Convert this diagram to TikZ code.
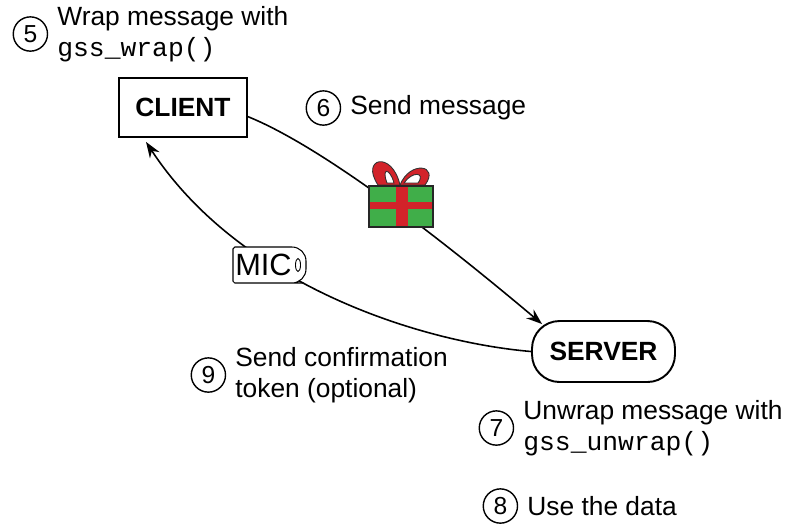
\documentclass[tikz,border=0pt]{standalone}
\usepackage{fontspec}
\setmainfont{Liberation Sans}
\setmonofont{Liberation Mono}
\usetikzlibrary{arrows.meta,positioning,calc,backgrounds}
\definecolor{GiftGreen}{RGB}{64,174,73}
\definecolor{GiftRed}{RGB}{210,35,42}
\tikzset{
  StepText/.style = {align=left, inner sep=0pt, anchor=west, font=\fontsize{15}{18}\selectfont},
  HostNode/.style = {draw = black, line width=1.1pt, inner sep=0pt, font=\fontsize{15}{18}\selectfont\bfseries, minimum width=2.56cm, minimum height=1.18cm},
  ServerNode/.style = {HostNode, rounded corners=0.55cm, minimum width=2.86cm, minimum height=1.22cm},
  StepNum/.style = {circle, draw = black, line width=0.8pt, inner sep=0pt, minimum size=19.5pt, font=\fontsize{14}{14}\selectfont},
  Flow/.style = {line width=0.9pt, ->}
}
\begin{document}
\begin{tikzpicture}[>={Stealth[length=9pt,width=6.5pt]}, x=0.02cm, y=-0.02cm]
  \useasboundingbox (0,0) rectangle (786,525);
  \node [HostNode] (client) at (183,107.5) {CLIENT};
  \node [ServerNode] (server) at (603.5,351.5) {SERVER};
  \node [StepText] (wrap) at (57,34) {Wrap message with\\\texttt{gss\_wrap()}};
  \node [StepNum, left=5pt of wrap] (n5) {5};
  \node [StepText] (send) at (350,108) {Send message};
  \node [StepNum, left=5pt of send] (n6) {6};
  \node [StepText] (unwrap) at (523,428) {Unwrap message with\\\texttt{gss\_unwrap()}};
  \node [StepNum, left=5pt of unwrap] (n7) {7};
  \node [StepText] (use) at (527,506) {Use the data};
  \node [StepNum, left=5pt of use] (n8) {8};
  \node [StepText] (confirm) at (235,375) {Send confirmation\\token (optional)};
  \node [StepNum, left=5pt of confirm] (n9) {9};
  % gift
  \filldraw [fill=GiftRed, draw=black!80, line width=0.5pt, even odd rule]
    (400,185) .. controls (392,150) and (360,158) .. (378,185) -- cycle
    (394,183) .. controls (390,168) and (381,167) .. (387,183) -- cycle;
  \filldraw [fill=GiftRed, draw=black!80, line width=0.5pt, even odd rule]
    (400,185) .. controls (410,160) and (440,165) .. (425,185) -- cycle
    (404,183) .. controls (412,171) and (426,172) .. (418,183) -- cycle;
  \fill [GiftGreen] (369,186) rectangle (433,227);
  \fill [GiftRed] (396,186) rectangle (408,227);
  \fill [GiftRed] (369,202) rectangle (433,209);
  \draw [black!85, line width=0.9pt] (369,186) rectangle (433,227);
  % MIC tag
  \draw [fill=white, line width=0.6pt, rounded corners=1pt] (233,283) -- (233,247) -- (290,247)
    [rounded corners=8pt] -- (306,247) -- (306,283) -- (290,283) [rounded corners=1pt] -- cycle;
  \node [inner sep=0pt, font=\fontsize{17.5}{18}\selectfont] (mic) at (263.5,265) {MIC};
  \draw [line width=0.5pt] (298,265) ellipse [x radius=2.5, y radius=6.5];
  \begin{pgfonlayer}{background}
    \draw [Flow] (client.-8) .. controls (330,150) and (460,255) .. ($(server.north west)+(11,4)$);
    \draw [Flow] (server.west) .. controls (420,342) and (240,285) .. ($(client.south west)+(28,4)$);
  \end{pgfonlayer}
\end{tikzpicture}
\end{document}
